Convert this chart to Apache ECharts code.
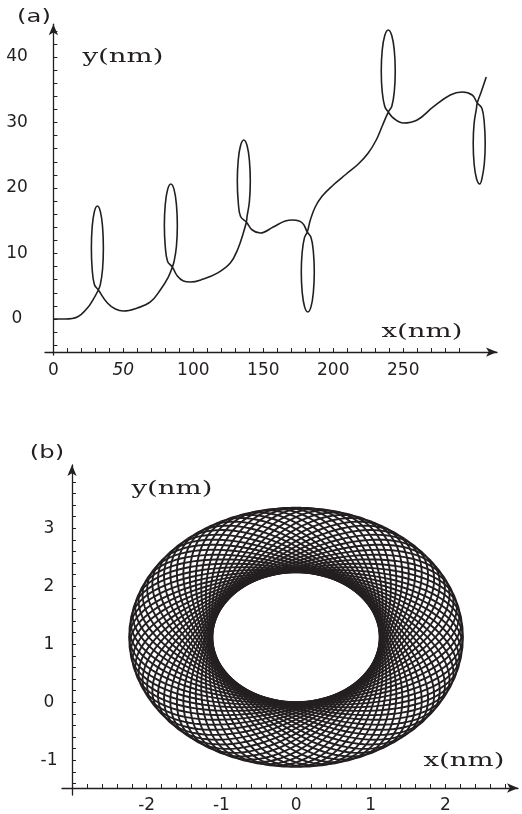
<!DOCTYPE html>
<html>
<head>
    <meta charset="utf-8">
    <title>trajectories</title>
    <script src="https://cdn.jsdelivr.net/npm/echarts@6/dist/echarts.min.js"></script>
    <style>html,body{margin:0;padding:0;background:#fff;}</style>
</head>
<body>
<div id="main" style="width: 522px;height:814px;"></div>
<script type="text/javascript">

        // (a) looping path (nm)
        var pathX = [0, 8.6, 17.1, 24.3, 28.6, 32.1,
            33.57, 35.14, 35.71, 35.14, 33.57, 31.43, 29.29, 27.71, 27.14, 27.71, 29.29, 32.14,
            38.6, 44.3, 50, 60, 69.3, 76.4, 82.1, 85,
            86.25, 87.93, 88.57, 87.93, 86.25, 83.93, 81.61, 79.93, 79.29, 79.93, 81.61, 85,
            88.6, 92.9, 97.9, 107.1, 117.1, 126.4, 132.1, 135.7, 137.9,
            138.39, 140.07, 140.71, 140.07, 138.39, 136.07, 133.75, 132.07, 131.43, 132.07, 133.75, 137.86,
            142.1, 147.9, 157.1, 165.7, 171.4, 177.9, 181.4,
            184.11, 185.79, 186.43, 185.79, 184.11, 181.79, 179.46, 177.79, 177.14, 177.79, 179.46, 181.43,
            183.6, 187.1, 192.1, 200, 209.3, 217.9, 225, 230.7, 235, 239.3,
            241.79, 243.61, 244.29, 243.61, 241.79, 239.29, 236.79, 234.96, 234.29, 234.96, 236.79, 239.29,
            242.9, 250, 260, 271.4, 283.6, 292.1, 299.3, 302.9,
            306.25, 307.93, 308.57, 307.93, 306.25, 304.64, 302.32, 300.64, 300.0, 300.64, 302.32, 302.86,
            305.7, 309.3];
        var pathY = [0, 0, 0.3, 1.68, 3.05, 4.43,
            5.28, 7.63, 10.84, 14.05, 16.4, 17.25, 16.4, 14.05, 10.84, 7.63, 5.28, 4.43,
            2.44, 1.53, 1.22, 1.68, 2.6, 4.43, 6.41, 7.94,
            8.79, 11.11, 14.27, 17.44, 19.76, 20.61, 19.76, 17.44, 14.27, 11.11, 8.79, 7.94,
            6.56, 5.8, 5.65, 6.1, 7.0, 8.55, 10.84, 13.13, 14.81,
            15.65, 17.94, 21.07, 24.2, 26.49, 27.33, 26.49, 24.2, 21.07, 17.94, 15.65, 14.81,
            13.59, 13.13, 14.05, 14.96, 15.11, 14.66, 13.28,
            12.46, 10.23, 7.18, 4.12, 1.89, 1.07, 1.89, 4.12, 7.18, 10.23, 12.46, 13.28,
            15.11, 17.1, 18.78, 20.46, 22.14, 23.66, 25.34, 27.33, 29.47, 31.6,
            32.44, 34.73, 37.86, 40.99, 43.28, 44.12, 43.28, 40.99, 37.86, 34.73, 32.44, 31.6,
            30.69, 29.92, 30.38, 32.37, 34.2, 34.66, 34.2, 32.98,
            32.15, 29.89, 26.79, 23.7, 21.44, 20.61, 21.44, 23.7, 26.79, 29.89, 32.15, 32.98,
            34.66, 36.95];

        var aXTicks = [0, 10, 20, 30, 40, 50, 60, 70, 80, 90, 100, 110, 120, 130, 140, 150, 160, 170, 180, 190,
            200, 210, 220, 230, 240, 250, 260, 270, 280, 290];
        var aXLabels = [0, 50, 100, 150, 200, 250];
        var aYTicks = [-4, -2, 0, 2, 4, 6, 8, 10, 12, 14, 16, 18, 20, 22, 24, 26, 28, 30, 32, 34, 36, 38, 40, 42, 44];
        var aYLabels = [0, 10, 20, 30, 40];

        // (b) precessing elliptical orbit: centre, semi-axes and orientation of each turn (deg)
        var ringCenter = [0, 1.12];
        var orbitAxes = [2.235, 1.12];
        var orbitAngles = [0, 4.5, 9, 13.5, 18, 22.5, 27, 31.5, 36, 40.5, 45, 49.5, 54, 58.5, 63, 67.5, 72, 76.5, 81, 85.5,
            90, 94.5, 99, 103.5, 108, 112.5, 117, 121.5, 126, 130.5, 135, 139.5, 144, 148.5, 153, 157.5, 162, 166.5, 171, 175.5];

        var bXTicks = [-2.8, -2.6, -2.4, -2.2, -2, -1.8, -1.6, -1.4, -1.2, -1, -0.8, -0.6, -0.4, -0.2, 0,
            0.2, 0.4, 0.6, 0.8, 1, 1.2, 1.4, 1.6, 1.8, 2, 2.2, 2.4, 2.6, 2.8];
        var bXLabels = [-2, -1, 0, 1, 2];
        var bYTicks = [-1.4, -1.2, -1, -0.8, -0.6, -0.4, -0.2, 0, 0.2, 0.4, 0.6, 0.8, 1, 1.2, 1.4, 1.6, 1.8,
            2, 2.2, 2.4, 2.6, 2.8, 3, 3.2, 3.4, 3.6, 3.8];
        var bYLabels = [-1, 0, 1, 2, 3];

        var ink = '#231f20';
        var labelFont = 'DejaVu Sans';

        function axisLine() {
            return {show: true, symbol: ['none', 'arrow'], symbolSize: [7, 11], lineStyle: {color: ink, width: 1.3}};
        }

        function pathData() {
            var d = [];
            for (var i = 0; i < pathX.length; i++) d.push([pathX[i], pathY[i]]);
            return d;
        }

        function orbitData() {
            return orbitAngles.map(function (a) { return [ringCenter[0], ringCenter[1], a]; });
        }

        // one turn of the orbit drawn as an ellipse through the axis scales
        function renderOrbit(params, api) {
            var cx = api.value(0), cy = api.value(1), ang = api.value(2) * Math.PI / 180;
            var pts = [];
            for (var k = 0; k <= 120; k++) {
                var t = k / 120 * 2 * Math.PI;
                var ex = orbitAxes[0] * Math.cos(t), ey = orbitAxes[1] * Math.sin(t);
                pts.push(api.coord([cx + ex * Math.cos(ang) - ey * Math.sin(ang),
                    cy + ex * Math.sin(ang) + ey * Math.cos(ang)]));
            }
            return {type: 'polyline', shape: {points: pts}, style: {stroke: ink, lineWidth: 1.9, fill: null}};
        }

        function serifLabel(text, x, y, sx) {
            return {type: 'text', x: x, y: y, scaleX: sx,
                style: {text: text, font: '19px "DejaVu Serif"', fill: ink, align: 'center', verticalAlign: 'middle'}};
        }
        function panelLabel(text, x, y) {
            return {type: 'text', x: x, y: y, scaleX: 1.35,
                style: {text: text, font: '18px "DejaVu Sans"', fill: ink, align: 'center', verticalAlign: 'middle'}};
        }

        var option = {
            animation: false,
            backgroundColor: '#fff',
            grid: [
                {left: 45, top: 24.25, width: 452, height: 330.8},
                {left: 62, top: 465, width: 456, height: 330}
            ],
            xAxis: [
                {
                    gridIndex: 0, type: 'value', min: -6, max: 317, splitLine: {show: false},
                    offset: -3,
                    axisLine: Object.assign(axisLine(), {onZero: false}),
                    axisTick: {show: true, inside: true, length: 4, customValues: aXTicks, lineStyle: {color: ink}},
                    axisLabel: {
                        customValues: aXLabels, margin: 10, color: ink, fontFamily: labelFont, fontSize: 17,
                        formatter: function (v) { return v === 50 ? '{it|50}' : String(v); },
                        rich: {it: {fontStyle: 'italic', fontFamily: labelFont, fontSize: 17, color: ink}}
                    }
                },
                {
                    gridIndex: 1, type: 'value', min: -3.134, max: 2.972, splitLine: {show: false},
                    offset: -7,
                    axisLine: Object.assign(axisLine(), {onZero: false}),
                    axisTick: {show: true, inside: true, length: 4, customValues: bXTicks, lineStyle: {color: ink}},
                    axisLabel: {customValues: bXLabels, margin: 9, color: ink, fontFamily: labelFont, fontSize: 17}
                }
            ],
            yAxis: [
                {
                    gridIndex: 0, type: 'value', min: -5.5, max: 45, splitLine: {show: false},
                    axisLine: Object.assign(axisLine(), {onZero: true}),
                    axisTick: {show: true, inside: true, length: 4, customValues: aYTicks, lineStyle: {color: ink}},
                    axisLabel: {customValues: aYLabels, margin: 28, align: 'center', color: ink, fontFamily: labelFont, fontSize: 17}
                },
                {
                    gridIndex: 1, type: 'value', min: -1.6, max: 4.09, splitLine: {show: false},
                    offset: -10,
                    axisLine: Object.assign(axisLine(), {onZero: false}),
                    axisTick: {show: true, inside: true, length: 4, customValues: bYTicks, lineStyle: {color: ink}},
                    axisLabel: {customValues: bYLabels, margin: 23, align: 'center', color: ink, fontFamily: labelFont, fontSize: 17}
                }
            ],
            series: [
                {
                    name: 'path', type: 'line', xAxisIndex: 0, yAxisIndex: 0,
                    data: pathData(), smooth: 0.4, showSymbol: false,
                    lineStyle: {color: ink, width: 1.6}
                },
                {
                    name: 'orbit', type: 'custom', xAxisIndex: 1, yAxisIndex: 1,
                    data: orbitData(), renderItem: renderOrbit,
                    encode: {x: 0, y: 1}
                }
            ],
            graphic: [
                panelLabel('(a)', 34, 17),
                panelLabel('(b)', 47, 453),
                serifLabel('y(nm)', 123, 57, 1.45),
                serifLabel('x(nm)', 422, 332, 1.45),
                serifLabel('y(nm)', 172, 489, 1.45),
                serifLabel('x(nm)', 464, 761, 1.45)
            ]
        };

        var myChart = echarts.init(document.getElementById('main'));
        myChart.setOption(option);

</script>
</body>
</html>
